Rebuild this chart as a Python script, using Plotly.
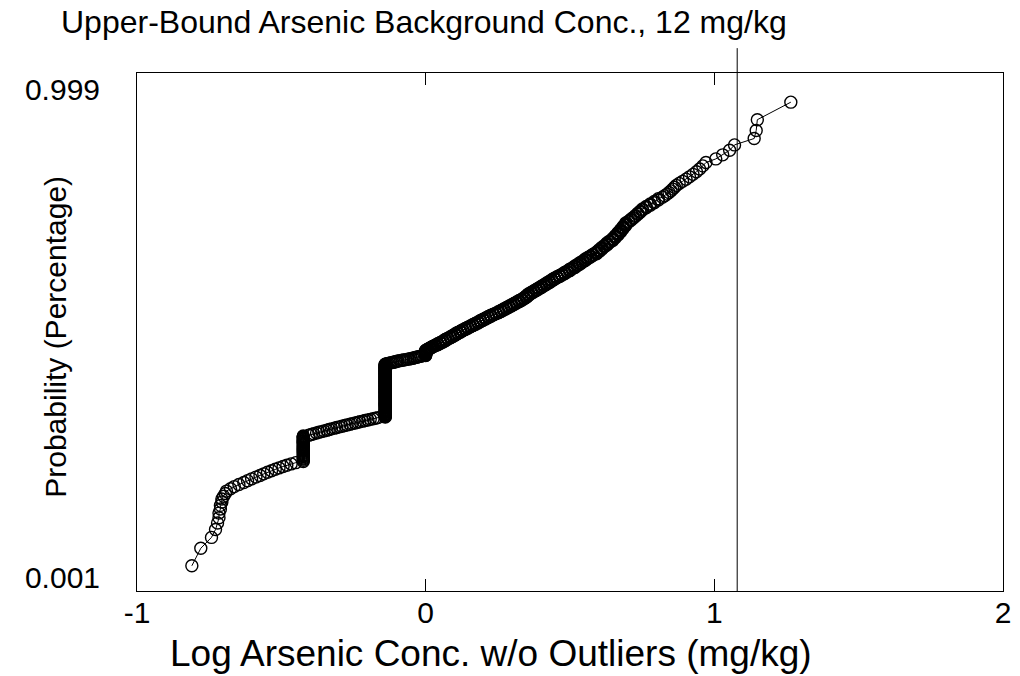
import numpy as np
import plotly.graph_objects as go
from statistics import NormalDist

# ---- data: sorted log10 arsenic concentrations (mg/kg) with tie counts ----
log_conc = [
    -0.810, -0.779, -0.742, -0.728, -0.721, -0.716, -0.711, -0.706, -0.700, -0.694,
    -0.690, -0.676, -0.663, -0.647, -0.630, -0.617, -0.603, -0.588, -0.574, -0.561,
    -0.548, -0.534, -0.521, -0.508, -0.494, -0.481, -0.466, -0.450,
    -0.424,
    -0.405, -0.396, -0.388, -0.378, -0.370, -0.360, -0.352, -0.342, -0.334, -0.326,
    -0.316, -0.308, -0.298, -0.290, -0.280, -0.272, -0.262, -0.254, -0.244, -0.236,
    -0.228, -0.218, -0.210, -0.200, -0.192, -0.182, -0.174, -0.165,
    -0.140,
    -0.135, -0.130, -0.125, -0.120, -0.114, -0.109, -0.104, -0.100,
    -0.096, -0.089, -0.082, -0.076, -0.069, -0.062, -0.056, -0.050, -0.044,
    -0.040, -0.036, -0.031, -0.027, -0.022, -0.017, -0.012,
    0.000,
    0.004, 0.009, 0.013, 0.017, 0.021, 0.025, 0.030, 0.035,
    0.042, 0.051, 0.060, 0.068, 0.077, 0.086, 0.094, 0.103, 0.111, 0.120, 0.128,
    0.137, 0.146, 0.155, 0.164, 0.173, 0.182, 0.190, 0.199, 0.208, 0.217, 0.226, 0.235, 0.243,
    0.252, 0.261, 0.270, 0.279, 0.288, 0.297, 0.306, 0.315, 0.324, 0.333, 0.341, 0.349, 0.356,
    0.365, 0.374, 0.383, 0.392, 0.401, 0.410, 0.419, 0.428, 0.437, 0.446, 0.455, 0.464, 0.472,
    0.481, 0.490, 0.499, 0.508, 0.517, 0.526, 0.535, 0.544, 0.553, 0.562, 0.571, 0.580,
    0.592, 0.601, 0.610, 0.619, 0.628, 0.637,
    0.648, 0.657, 0.666, 0.675, 0.684, 0.693,
    0.703, 0.711, 0.719, 0.727, 0.735, 0.743, 0.751,
    0.764, 0.778, 0.792, 0.806,
    0.820, 0.828, 0.836, 0.843, 0.850, 0.856, 0.862, 0.868,
    0.878, 0.890, 0.902, 0.914, 0.926,
    0.938, 0.949, 0.960, 0.971,
    1.005, 1.029, 1.053, 1.070,
    1.138, 1.145, 1.149, 1.265,
]
counts = [
    1, 1, 1, 1, 1, 2, 2, 2, 1, 1,
    1, 1, 1, 1, 1, 1, 1, 1, 1, 1,
    1, 1, 1, 1, 1, 1, 1, 1,
    28,
    1, 1, 1, 1, 1, 1, 1, 1, 1, 1,
    1, 1, 1, 1, 1, 1, 1, 1, 1, 1,
    1, 1, 1, 1, 1, 1, 1, 1,
    124,
    1, 1, 1, 1, 1, 1, 1, 1,
    1, 1, 1, 1, 1, 1, 1, 1, 1,
    1, 1, 1, 1, 1, 1, 1,
    16,
    2, 2, 2, 2, 2, 2, 2, 2,
    4, 4, 4, 5, 4, 4, 4, 5, 4, 4, 4,
    4, 4, 4, 4, 4, 4, 4, 4, 4, 4, 4, 3, 3,
    4, 4, 4, 4, 4, 4, 4, 4, 4, 4, 4, 5, 5,
    4, 4, 4, 4, 4, 4, 4, 4, 4, 4, 3, 3, 3,
    4, 3, 4, 3, 4, 3, 4, 3, 4, 3, 3, 3,
    4, 4, 4, 3, 4, 3,
    4, 4, 4, 4, 4, 4,
    2, 2, 2, 2, 2, 2, 2,
    2, 2, 2, 2,
    1, 1, 1, 1, 1, 1, 1, 1,
    1, 1, 1, 1, 1,
    1, 1, 1, 1,
    1, 1, 1, 1,
    1, 1, 1, 1,
]
assert len(log_conc) == len(counts)

x_ticks = [-1, 0, 1, 2]
x_tick_labels = ["-1", "0", "1", "2"]
prob_ticks = [0.001, 0.999]
prob_tick_labels = ["0.001", "0.999"]
background_ubc_mgkg = 12

title_text = "Upper-Bound Arsenic Background Conc., 12 mg/kg"
x_title = "Log Arsenic Conc. w/o Outliers (mg/kg)"
y_title = "Probability (Percentage)"

# ---- probability-plot scale: empirical cumulative probability -> normal score ----
nd = NormalDist()
xs = np.repeat(np.array(log_conc), counts)
n = len(xs)
cum_prob = np.arange(1, n + 1) / (n + 1)
ys = [nd.inv_cdf(p) for p in cum_prob]
y_tickvals = [nd.inv_cdf(p) for p in prob_ticks]

FONT = "Liberation Sans, Arial, Helvetica, sans-serif"

fig = go.Figure()
fig.add_trace(go.Scatter(
    x=xs, y=ys, mode="lines+markers",
    line=dict(color="black", width=1),
    marker=dict(symbol="circle-open", size=12, color="black", line=dict(width=1.4)),
    showlegend=False, hoverinfo="skip",
))

fig.add_shape(type="line", xref="x", yref="paper",
              x0=np.log10(background_ubc_mgkg), x1=np.log10(background_ubc_mgkg),
              y0=0, y1=1.048, line=dict(color="black", width=1))

fig.add_annotation(text=title_text, xref="paper", yref="paper", x=-0.09, y=1.098,
                   xanchor="left", yanchor="middle", showarrow=False,
                   font=dict(family=FONT, size=32, color="black"))
fig.add_annotation(text=x_title, xref="paper", yref="paper", x=0.409, y=-0.165,
                   xanchor="center", yanchor="bottom", showarrow=False,
                   font=dict(family=FONT, size=37, color="black"))
fig.add_annotation(text=y_title, xref="paper", yref="paper", x=-0.094, y=0.49,
                   xanchor="center", yanchor="middle", showarrow=False, textangle=-90,
                   font=dict(family=FONT, size=30, color="black"))

fig.update_layout(
    width=1020, height=676,
    margin=dict(l=137, r=9, t=73, b=85),
    paper_bgcolor="white", plot_bgcolor="white",
    font=dict(family=FONT, color="black"),
    xaxis=dict(range=[-1, 2], tickvals=x_ticks, ticktext=x_tick_labels,
               ticks="inside", ticklen=12, tickcolor="black", tickwidth=1,
               showline=True, linecolor="black", linewidth=1, mirror="ticks",
               showgrid=False, zeroline=False, ticklabelstandoff=-5,
               tickfont=dict(family=FONT, size=30, color="black")),
    yaxis=dict(range=[-3.255, 3.305], tickvals=y_tickvals, ticktext=prob_tick_labels,
               ticks="", showline=True, linecolor="black", linewidth=1, mirror=True,
               showgrid=False, zeroline=False, ticklabelstandoff=30,
               tickfont=dict(family=FONT, size=30, color="black")),
)

fig.write_html("out.html", config={"responsive": False, "displayModeBar": False},
               post_script="document.body.style.margin='0';document.body.style.overflow='hidden';")
